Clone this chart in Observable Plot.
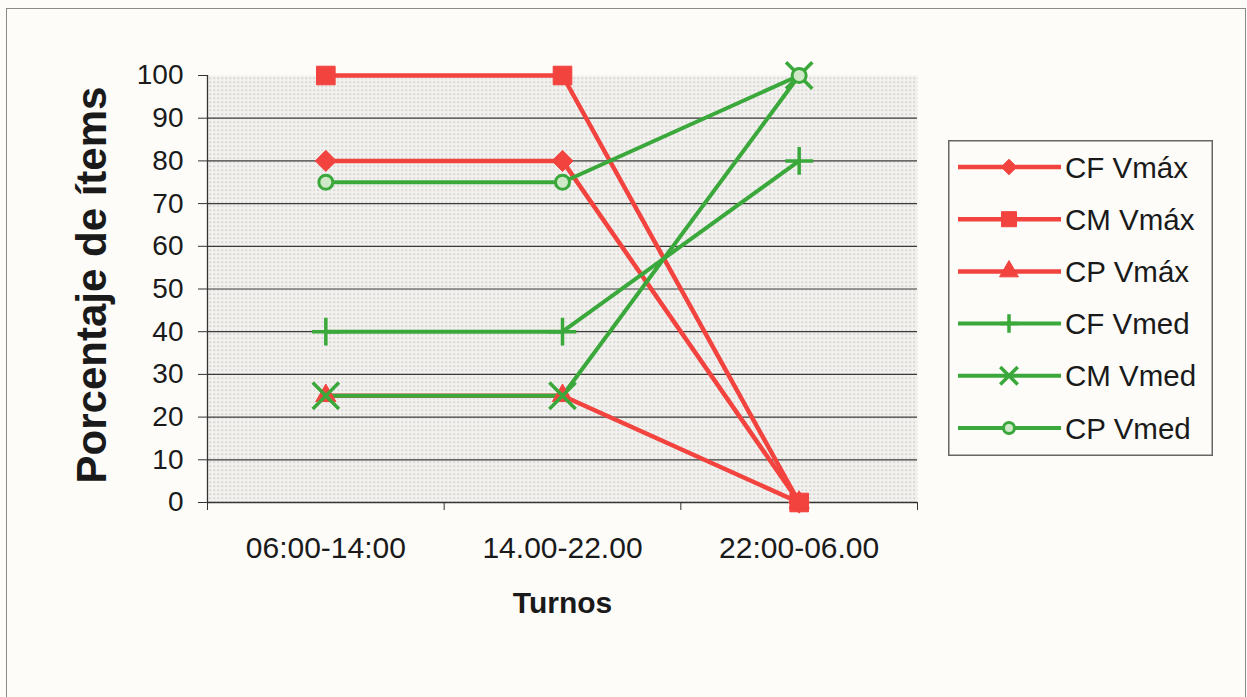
<!DOCTYPE html>
<html>
<head>
<meta charset="utf-8">
<script src="https://cdn.jsdelivr.net/npm/d3@7"></script>
<script src="https://cdn.jsdelivr.net/npm/@observablehq/plot@0.6"></script>
<style>
  html, body { margin: 0; padding: 0; background: #fdfcf9; }
  #wrap { position: relative; width: 1247px; height: 697px; overflow: hidden;
          font-family: "Liberation Sans", Arial, sans-serif; background: #fdfcf9; }
  #chart { position: absolute; left: 0; top: 0; }
  #border { position: absolute; left: 6px; top: 8px; width: 1240px; height: 720px;
            border: 1.5px solid #8a8a8a; box-sizing: border-box; pointer-events: none; }
  #legend { position: absolute; left: 948px; top: 140px; }
</style>
</head>
<body>
<div id="wrap">
  <div id="chart"></div>
  <div id="border"></div>
  <div id="legend"></div>
</div>
<script>
// ---- data ----
const turnos = ["06:00-14:00", "14.00-22.00", "22:00-06.00"];
const seriesNames = ["CF Vmáx", "CM Vmáx", "CP Vmáx", "CF Vmed", "CM Vmed", "CP Vmed"];
const cfVmax = [80, 80, 0];
const cmVmax = [100, 100, 0];
const cpVmax = [25, 25, 0];
const cfVmed = [40, 40, 80];
const cmVmed = [25, 25, 100];
const cpVmed = [75, 75, 100];
const yTicks = [0, 10, 20, 30, 40, 50, 60, 70, 80, 90, 100];
const yTitle = "Porcentaje de ítems";
const xTitle = "Turnos";

const seriesValues = [cfVmax, cmVmax, cpVmax, cfVmed, cmVmed, cpVmed];

// ---- styles ----
const RED = "#f2433f";
const GREEN = "#3aa83a";
const styles = [
  {color: RED,   symbol: "diamond2", r: 9.5, fill: RED,   stroke: RED,   sw: 1,   lw: 4.5, lr: 7},
  {color: RED,   symbol: "square",   r: 10.5, fill: RED,  stroke: RED,   sw: 1,   lw: 4.5, lr: 8.5},
  {color: RED,   symbol: "triangle", r: 7.5, fill: RED,   stroke: RED,   sw: 1,   lw: 4.5, lr: 7},
  {color: GREEN, symbol: "plus",     r: 9,   fill: "none", stroke: GREEN, sw: 3.5, lw: 4,   lr: 6},
  {color: GREEN, symbol: "times",    r: 12, fill: "none", stroke: GREEN, sw: 3.5, lw: 4,  lr: 8},
  {color: GREEN, symbol: "circle",   r: 7,   fill: "#cfe8c8", stroke: GREEN, sw: 3, lw: 4,  lr: 5.5}
];

const rows = [];
seriesNames.forEach((s, k) => {
  seriesValues[k].forEach((v, i) => rows.push({serie: s, i, turno: turnos[i], value: v}));
});

const idx = turnos.map((_, i) => i);
const bounds = d3.range(turnos.length + 1).map(i => i - 0.5);

const marks = [
  Plot.frame({fill: "url(#dots)", stroke: "none"}),
  Plot.ruleY(yTicks.filter(d => d > 0 && d < 100), {stroke: "#3a3a3a", strokeWidth: 1.2}),
  Plot.ruleX([-0.5], {stroke: "#333", strokeWidth: 1.3}),
  Plot.ruleY([0], {stroke: "#333", strokeWidth: 1.3}),
  Plot.axisY({ticks: yTicks, tickSize: 9, tickPadding: 15, fontSize: 28, label: null, stroke: "#333"}),
  Plot.axisX({ticks: bounds, tickSize: 8, tickFormat: () => "", label: null, stroke: "#333"}),
  Plot.axisX({ticks: idx, tickSize: 0, tickPadding: 34, tickFormat: i => turnos[i], fontSize: 30, label: null}),
  Plot.text([xTitle], {frameAnchor: "bottom", lineAnchor: "middle", dy: 101, fontSize: 30, fontWeight: "bold", fill: "#1a1a1a"}),
  Plot.text([yTitle], {frameAnchor: "left", textAnchor: "middle", rotate: -90, lineAnchor: "middle", dx: -115, dy: -4, fontSize: 42, fontWeight: "bold", fill: "#1a1a1a"})
];

seriesNames.forEach((s, k) => {
  const st = styles[k];
  const data = rows.filter(d => d.serie === s);
  marks.push(Plot.line(data, {x: "i", y: "value", stroke: st.color, strokeWidth: st.lw}));
});
seriesNames.forEach((s, k) => {
  const st = styles[k];
  const data = rows.filter(d => d.serie === s);
  marks.push(Plot.dot(data, {x: "i", y: "value", symbol: () => st.symbol, r: st.r,
    fill: st.fill, stroke: st.stroke, strokeWidth: st.sw}));
});

const chart = Plot.plot({
  width: 1247,
  height: 697,
  marginLeft: 207,
  marginRight: 330,
  marginTop: 75,
  marginBottom: 195,
  style: {background: "transparent", fontFamily: "'Liberation Sans', Arial, sans-serif", color: "#1a1a1a"},
  x: {type: "linear", domain: [-0.5, 2.5]},
  y: {domain: [0, 100]},
  symbol: {type: "identity"},
  marks
});

const defs = d3.select(chart).insert("defs", ":first-child");
const pat = defs.append("pattern").attr("id", "dots").attr("patternUnits", "userSpaceOnUse")
  .attr("width", 4).attr("height", 4);
pat.append("rect").attr("width", 4).attr("height", 4).attr("fill", "#f3f2ef");
pat.append("rect").attr("x", 1).attr("y", 1).attr("width", 1.3).attr("height", 1.3).attr("fill", "#b3b3b3");

document.getElementById("chart").appendChild(chart);

// ---- legend ----
const symMap = {diamond2: d3.symbolDiamond2, square: d3.symbolSquare, triangle: d3.symbolTriangle,
                plus: d3.symbolPlus, times: d3.symbolTimes, circle: d3.symbolCircle};
const LW = 265, LH = 316;
const lg = d3.select("#legend").append("svg").attr("width", LW).attr("height", LH)
  .style("font-family", "'Liberation Sans', Arial, sans-serif");
lg.append("rect").attr("x", 0.75).attr("y", 0.75).attr("width", LW - 1.5).attr("height", LH - 1.5)
  .attr("fill", "#fdfcf9").attr("stroke", "#666").attr("stroke-width", 1.5);
seriesNames.forEach((s, k) => {
  const st = styles[k];
  const cy = 27 + k * 52.2;
  const g = lg.append("g").attr("transform", `translate(0,${cy})`);
  g.append("line").attr("x1", 10).attr("x2", 113).attr("y1", 0).attr("y2", 0)
    .attr("stroke", st.color).attr("stroke-width", st.lw);
  g.append("path").attr("transform", "translate(61,0)")
    .attr("d", d3.symbol(symMap[st.symbol], Math.PI * st.lr * st.lr)())
    .attr("fill", st.fill).attr("stroke", st.stroke).attr("stroke-width", st.sw);
  g.append("text").attr("x", 117).attr("y", 0).attr("dy", "0.36em")
    .attr("font-size", 29.5).attr("fill", "#1a1a1a").text(s);
});
</script>
</body>
</html>
